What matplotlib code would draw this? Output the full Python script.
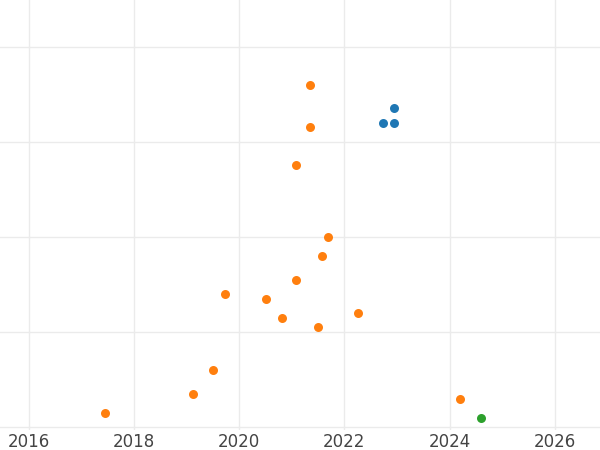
import matplotlib
matplotlib.use("Agg")
import matplotlib.pyplot as plt

# values
orange_x = [2021.34, 2021.34, 2021.08, 2021.68, 2021.57, 2021.08, 2019.73, 2020.51,
            2020.81, 2022.25, 2021.49, 2019.50, 2019.12, 2017.44, 2024.19]
orange_y = [3.60, 3.15, 2.75, 2.00, 1.80, 1.55, 1.40, 1.35,
            1.15, 1.20, 1.05, 0.60, 0.35, 0.15, 0.29]
blue_x = [2022.73, 2022.94, 2022.94]
blue_y = [3.20, 3.35, 3.20]
green_x = [2024.59]
green_y = [0.09]

fig = plt.figure(figsize=(6, 4.5), dpi=100)
ax = fig.add_axes([0, 0.045, 1, 0.955])

ax.scatter(orange_x, orange_y, color="#ff7f0e", s=42, zorder=3, linewidths=0)
ax.scatter(blue_x, blue_y, color="#1f77b4", s=42, zorder=3, linewidths=0)
ax.scatter(green_x, green_y, color="#2ca02c", s=42, zorder=3, linewidths=0)

ax.set_xlim(2015.45, 2026.86)
ax.set_ylim(-0.03, 4.49)
ax.set_xticks([2016, 2018, 2020, 2022, 2024, 2026])
ax.set_yticks([0, 1, 2, 3, 4])
ax.set_yticklabels([])
ax.grid(True, color="#ebebeb", linewidth=1)
ax.set_axisbelow(True)
for s in ax.spines.values():
    s.set_visible(False)
ax.tick_params(length=0, labelsize=12, labelcolor="#444444", pad=2)

fig.savefig("out.png", dpi=100)
